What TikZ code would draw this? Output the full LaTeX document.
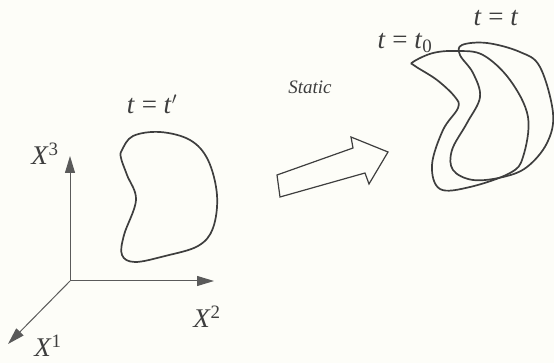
\documentclass[tikz,border=0pt]{standalone}
\usepackage{fontspec}
\setmainfont{Liberation Serif}
\usetikzlibrary{arrows.meta,positioning}
\definecolor{ink}{HTML}{3E3E3E}
\definecolor{axisgray}{HTML}{5A5A5A}
\definecolor{paper}{HTML}{FDFDF8}
\newcommand{\vr}[1]{\textit{#1}}

\begin{document}
\begin{tikzpicture}[x=1pt,y=-1pt,
  axis/.style={draw=axisgray,line width=1pt,-{Triangle[length=17pt,width=10pt]}},
  blob/.style={draw=ink,line width=1.7pt,smooth cycle,tension=0.6},
  lbl/.style={text=ink,font=\fontsize{27}{30}\selectfont,inner sep=0pt},
  >=Latex]
\fill[paper] (0,0) rectangle (554,363);
\useasboundingbox (0,0) rectangle (554,363);
% axes
\coordinate (origin) at (70,281);
\coordinate (xthree) at (70,156);
\coordinate (xtwo) at (214,281);
\coordinate (xone) at (8,344);
\draw[axis] (origin)--(xthree);
\draw[axis] (origin)--(xtwo);
\draw[axis] (origin)--(xone);
\node[lbl] (labthree) at (45,154) {\vr{X}\textsuperscript{3}};
\node[lbl] (labtwo) at (207,317) {\vr{X}\textsuperscript{2}};
\node[lbl] (labone) at (48,346) {\vr{X}\textsuperscript{1}};
% body at t'
\draw[blob] plot coordinates {(122,150) (133,136) (160,132) (190,140) (208,160) (217,195) (213,228) (198,246) (165,256) (135,262) (122,255) (124,235) (136,200) (127,175) (121,158)};
\node[lbl] (tprime) at (152,104) {\vr{t} = \vr{t}$'$};
% static arrow
\node[text=ink,font=\fontsize{19}{22}\selectfont\itshape,inner sep=0pt] (static) at (310,87) {Static};
\draw[draw=ink,line width=1.2pt,line join=miter] (277,175)--(353,148)--(351,137)--(388,152)--(369,184)--(365,173)--(280,197)--cycle;
% bodies at t0 and t
\draw[blob] plot coordinates {(413,62) (433,53) (457,51) (483,55) (510,80) (528,117) (523,157) (510,173) (470,187) (440,189) (432,165) (443,130) (458,108) (455,97) (437,80) (415,66)};
\draw[blob] plot coordinates {(462,45) (487,43) (520,52) (540,67) (553,113) (547,143) (527,167) (503,177) (473,180) (453,170) (452,150) (467,123) (480,97) (473,73) (460,55)};
\node[lbl] (tzero) at (405,43) {\vr{t} = \vr{t}\textsubscript{0}};
\node[lbl] (tnow) at (496,18) {\vr{t} = \vr{t}};
\end{tikzpicture}
\end{document}
